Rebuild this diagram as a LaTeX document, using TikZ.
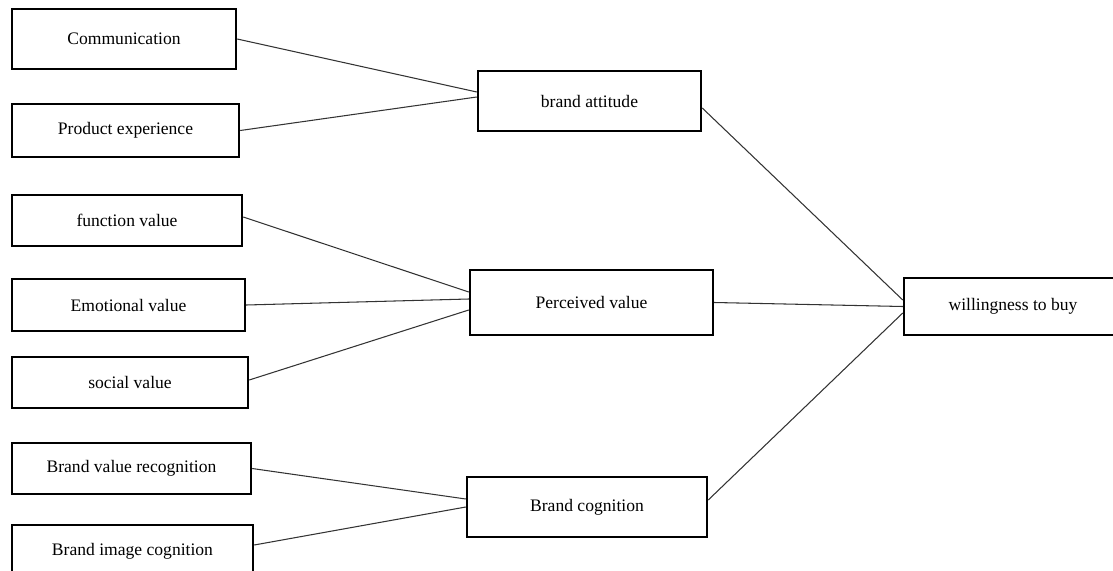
\documentclass[tikz,border=0pt]{standalone}
\usepackage{fontspec}
\setmainfont{Liberation Serif}
\usepackage{tikz}
\usetikzlibrary{positioning}

\tikzset{
  factor/.style={draw, line width=1.4pt, rectangle, inner sep=0pt, font=\fontsize{10}{12}\selectfont},
  link/.style={line width=0.6pt, black!80}
}

\begin{document}
\begin{tikzpicture}[x=0.02cm, y=-0.02cm]
     \useasboundingbox (0,0) rectangle (1113,571);
     \clip (0,0) rectangle (1113,571);

        % left column
         \node[factor, minimum width=224*0.02cm, minimum height=60*0.02cm] (comm) at (124, 39){Communication};
         \node[factor, minimum width=227*0.02cm, minimum height=53*0.02cm] (prod) at (125.5, 130.5){Product experience};
         \node[factor, minimum width=230*0.02cm, minimum height=51*0.02cm] (func) at (127, 220.5){function value};
         \node[factor, minimum width=233*0.02cm, minimum height=52*0.02cm] (emo) at (128.5, 305){Emotional value};
         \node[factor, minimum width=236*0.02cm, minimum height=51*0.02cm] (soc) at (130, 382.5){social value};
         \node[factor, minimum width=239*0.02cm, minimum height=51*0.02cm] (bvr) at (131.5, 468.5){Brand value recognition};
         \node[factor, minimum width=241*0.02cm, minimum height=52*0.02cm] (bic) at (132.5, 551){Brand image cognition};

        % middle column
         \node[factor, minimum width=223*0.02cm, minimum height=60*0.02cm] (att) at (589.5, 101){brand attitude};
         \node[factor, minimum width=243*0.02cm, minimum height=65*0.02cm] (per) at (591.5, 302.5){Perceived value};
         \node[factor, minimum width=240*0.02cm, minimum height=60*0.02cm] (cog) at (587, 507){Brand cognition};

        % outcome (runs off the right edge)
         \node[factor, minimum width=240*0.02cm, minimum height=57*0.02cm] (will) at (1024, 306.5){};
         \node[font=\fontsize{10}{12}\selectfont] (willtxt) at (1013, 306.5){willingness to buy};

         \draw[link] (comm.east) to ([yshift=0.18cm]att.west);
         \draw[link] (prod.east) to ([yshift=0.08cm]att.west);

         \draw[link] ([yshift=0.07cm]func.east) to ([yshift=0.21cm]per.west);
         \draw[link] (emo.east) to ([yshift=0.07cm]per.west);
         \draw[link] ([yshift=0.05cm]soc.east) to ([yshift=-0.15cm]per.west);

         \draw[link] (bvr.east) to ([yshift=0.16cm]cog.west);
         \draw[link] ([yshift=0.12cm]bic.east) to (cog.west);

         \draw[link] ([yshift=-0.14cm]att.east) to ([yshift=0.13cm]will.west);
         \draw[link] (per.east) to (will.west);
         \draw[link] ([yshift=0.14cm]cog.east) to ([yshift=-0.13cm]will.west);

\end{tikzpicture}
\end{document}
